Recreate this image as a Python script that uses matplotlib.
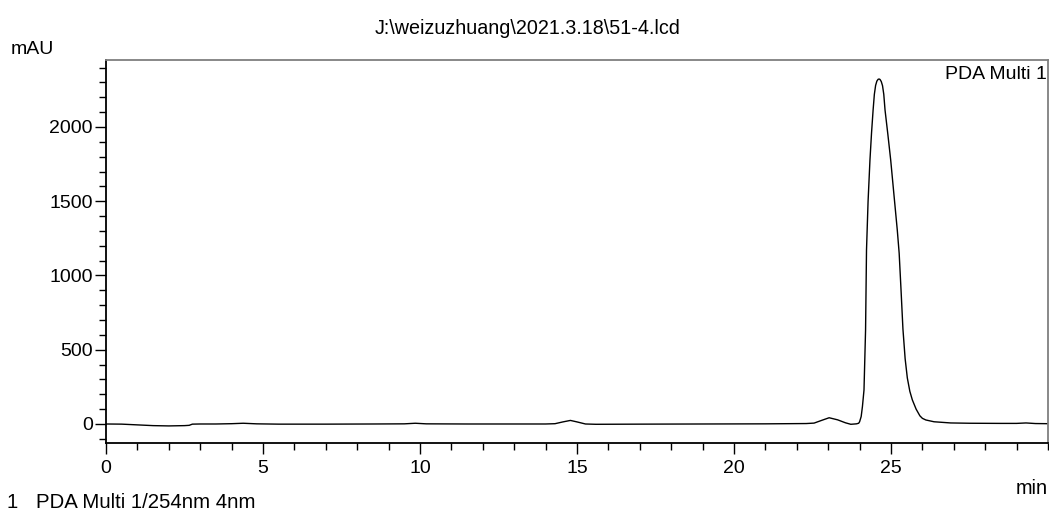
import matplotlib
matplotlib.use("Agg")
import matplotlib.pyplot as plt
from matplotlib.ticker import MultipleLocator

plt.rcParams['font.family'] = ['Liberation Sans', 'DejaVu Sans']

# Data (time in min, signal in mAU)
time_min = [0, 0.5, 1.0, 1.5, 2.0, 2.5, 2.65, 2.75, 3.0, 3.5, 4.0, 4.37, 4.8, 5.5,
            7.0, 8.5, 9.5, 9.85, 10.2, 11.5, 13.0, 14.0, 14.3, 14.55, 14.79, 15.0,
            15.27, 15.6, 17.0, 19.0, 21.0, 22.3, 22.55, 22.8, 23.03, 23.3, 23.55,
            23.72, 23.9, 23.97, 24.0, 24.05, 24.09, 24.14, 24.19, 24.22, 24.27,
            24.33, 24.38, 24.43, 24.47, 24.51, 24.55, 24.59, 24.62, 24.65, 24.69,
            24.73, 24.77, 24.81, 24.9, 24.99, 25.1, 25.2, 25.26, 25.32, 25.38,
            25.45, 25.52, 25.6, 25.68, 25.8, 25.92, 26.0, 26.11, 26.37, 26.9,
            27.5, 28.5, 29.0, 29.3, 29.6, 30.0]
signal_mau = [0, -1, -6, -11, -13, -11, -9, -1, 0, 0, 2, 5, 1, -1,
              -1, 0, 1, 5, 1, 0, 0, 0, 2, 14, 24, 14,
              0, -2, -1, 0, 1, 3, 6, 25, 42, 28, 8,
              -2, 1, 5, 15, 50, 117, 229, 633, 1172, 1500,
              1778, 1960, 2114, 2220, 2280, 2309, 2321, 2323, 2320, 2306,
              2278, 2220, 2114, 1950, 1778, 1530, 1306, 1150, 900, 640,
              440, 310, 220, 162, 100, 55, 38, 27, 15, 7,
              5, 4, 4, 7, 3, 2]

x_ticks = [0, 5, 10, 15, 20, 25]
y_ticks = [0, 500, 1000, 1500, 2000]

title_text = "J:\\weizuzhuang\\2021.3.18\\51-4.lcd"
legend_text = "PDA Multi 1"
footer_index = "1"
footer_text = "PDA Multi 1/254nm 4nm"

fig = plt.figure(figsize=(10.49, 5.20), dpi=100)
ax = fig.add_axes([106 / 1049, 77 / 520, 942 / 1049, 383 / 520])

ax.plot(time_min, signal_mau, color='black', linewidth=1.0)

ax.set_xlim(0, 30)
ax.set_ylim(-128, 2451)
ax.set_xticks(x_ticks)
ax.set_yticks(y_ticks)
ax.xaxis.set_minor_locator(MultipleLocator(1))
ax.yaxis.set_minor_locator(MultipleLocator(100))

ax.tick_params(axis='both', which='major', direction='out', length=8, width=1.0,
               labelsize=14, color='black')
ax.tick_params(axis='both', which='minor', direction='out', length=4.8, width=1.0,
               color='black')
ax.tick_params(axis='y', which='major', pad=1.5)
ax.tick_params(axis='x', which='major', pad=4)

for side in ['left', 'bottom']:
    ax.spines[side].set_color('black')
    ax.spines[side].set_linewidth(1.3)
for side in ['top', 'right']:
    ax.spines[side].set_color('#7f7f7f')
    ax.spines[side].set_linewidth(1.3)

fig.text(527.5 / 1049, 1 - 28 / 520, title_text, ha='center', va='center', fontsize=14.2)
fig.text(11 / 1049, 1 - 49 / 520, "mAU", ha='left', va='center', fontsize=14)
ax.text(0.9985, 0.985, legend_text, transform=ax.transAxes, ha='right', va='top', fontsize=14)
fig.text(1048 / 1049, 1 - 488 / 520, "min", ha='right', va='center', fontsize=14.3)
fig.text(7 / 1049, 1 - 502 / 520, footer_index, ha='left', va='center', fontsize=14.7)
fig.text(36 / 1049, 1 - 502 / 520, footer_text, ha='left', va='center', fontsize=14.7)

fig.savefig("out.png", dpi=100)
